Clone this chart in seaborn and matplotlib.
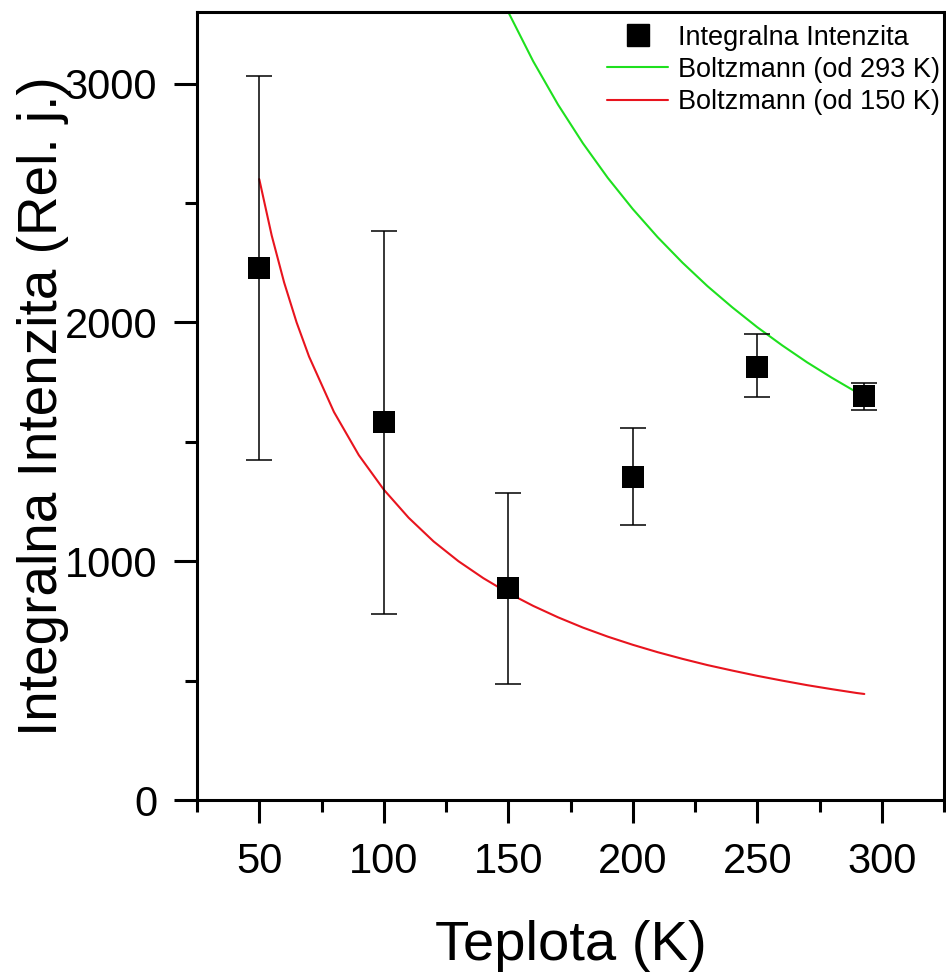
import matplotlib
matplotlib.use("Agg")
import matplotlib.pyplot as plt
import seaborn as sns
import pandas as pd
from matplotlib.ticker import MultipleLocator
from matplotlib.lines import Line2D

# measured points
temps = [50, 100, 150, 200, 250, 293]
intensity = [2226, 1581, 889, 1354, 1815, 1690]
err_low = [1425, 780, 486, 1153, 1686, 1635]
err_high = [3031, 2381, 1287, 1556, 1950, 1748]

# Boltzmann curve from 293 K
green_T = [148, 150, 160, 170, 180, 190, 200, 210, 220, 230, 240, 250, 260, 270, 280, 290, 293]
green_I = [3345, 3300, 3094, 2912, 2750, 2605, 2475, 2357, 2250, 2152, 2063, 1980, 1904, 1833, 1768, 1707, 1690]

# Boltzmann curve from 150 K
red_T = [50, 55, 60, 65, 70, 80, 90, 100, 110, 120, 130, 140, 150, 160, 170, 180, 190, 200,
         210, 220, 230, 240, 250, 260, 270, 280, 290, 293]
red_I = [2600, 2364, 2167, 2000, 1857, 1625, 1444, 1300, 1182, 1083, 1000, 929, 867, 813, 765,
         722, 684, 650, 619, 591, 565, 542, 520, 500, 481, 464, 448, 444]

labels = ["Integralna Intenzita", "Boltzmann (od 293 K)", "Boltzmann (od 150 K)"]
x_ticks = [50, 100, 150, 200, 250, 300]
y_ticks = [0, 1000, 2000, 3000]

sns.set_style("ticks")
plt.rcParams['font.family'] = ['Liberation Sans', 'DejaVu Sans']
plt.rcParams.update({'text.color': 'black', 'axes.labelcolor': 'black',
                     'xtick.color': 'black', 'ytick.color': 'black'})

fig = plt.figure(figsize=(9.46, 9.72), dpi=100)
ax = fig.add_axes([197/946, 1 - 800/972, (944-197)/946, (800-12)/972])

GREEN = "#1EE01E"
RED = "#E8141E"

df_g = pd.DataFrame({"T": green_T, "I": green_I})
df_r = pd.DataFrame({"T": red_T, "I": red_I})
sns.lineplot(data=df_g, x="T", y="I", color=GREEN, lw=1.5, ax=ax, zorder=2)
sns.lineplot(data=df_r, x="T", y="I", color=RED, lw=1.5, ax=ax, zorder=2)

lower = [i - l for i, l in zip(intensity, err_low)]
upper = [h - i for i, h in zip(intensity, err_high)]
ax.errorbar(temps, intensity, yerr=[lower, upper], fmt='none', ecolor='black',
            elinewidth=1.1, capsize=9.5, capthick=1.1, zorder=3)
df_p = pd.DataFrame({"T": temps, "I": intensity})
sns.scatterplot(data=df_p, x="T", y="I", marker="s", s=16**2, color="black",
                edgecolor="black", linewidth=0, ax=ax, zorder=4)

ax.set_xlim(25, 325)
ax.set_ylim(0, 3300)
ax.set_xticks(x_ticks)
ax.set_yticks(y_ticks)
ax.xaxis.set_minor_locator(MultipleLocator(25))
ax.yaxis.set_minor_locator(MultipleLocator(500))

for s in ax.spines.values():
    s.set_linewidth(2.2)
    s.set_color("black")
ax.tick_params(which='major', direction='out', length=16.5, width=2.2, labelsize=30,
               colors='black')
ax.tick_params(axis='y', which='major', pad=12)
ax.tick_params(axis='x', which='major', pad=14)
ax.tick_params(which='minor', direction='out', length=8.5, width=2.2)
ax.tick_params(top=False, right=False, which='both')

ax.set_xlabel("Teplota (K)", fontsize=40.5, labelpad=27)
ax.set_ylabel("Integralna Intenzita (Rel. j.)", fontsize=39.5)
ax.yaxis.set_label_coords(-0.172, 0.5)

handles = [
    Line2D([], [], marker='s', color='black', linestyle='none', markersize=16),
    Line2D([], [], color=GREEN, lw=1.5),
    Line2D([], [], color=RED, lw=1.5),
]
ax.legend(handles, labels, loc='upper left', bbox_to_anchor=(0.549, 0.984), frameon=False,
          fontsize=19.5, handlelength=2.25, handletextpad=0.37, labelspacing=0.23,
          borderaxespad=0, borderpad=0)

fig.savefig("out.png", dpi=100)
